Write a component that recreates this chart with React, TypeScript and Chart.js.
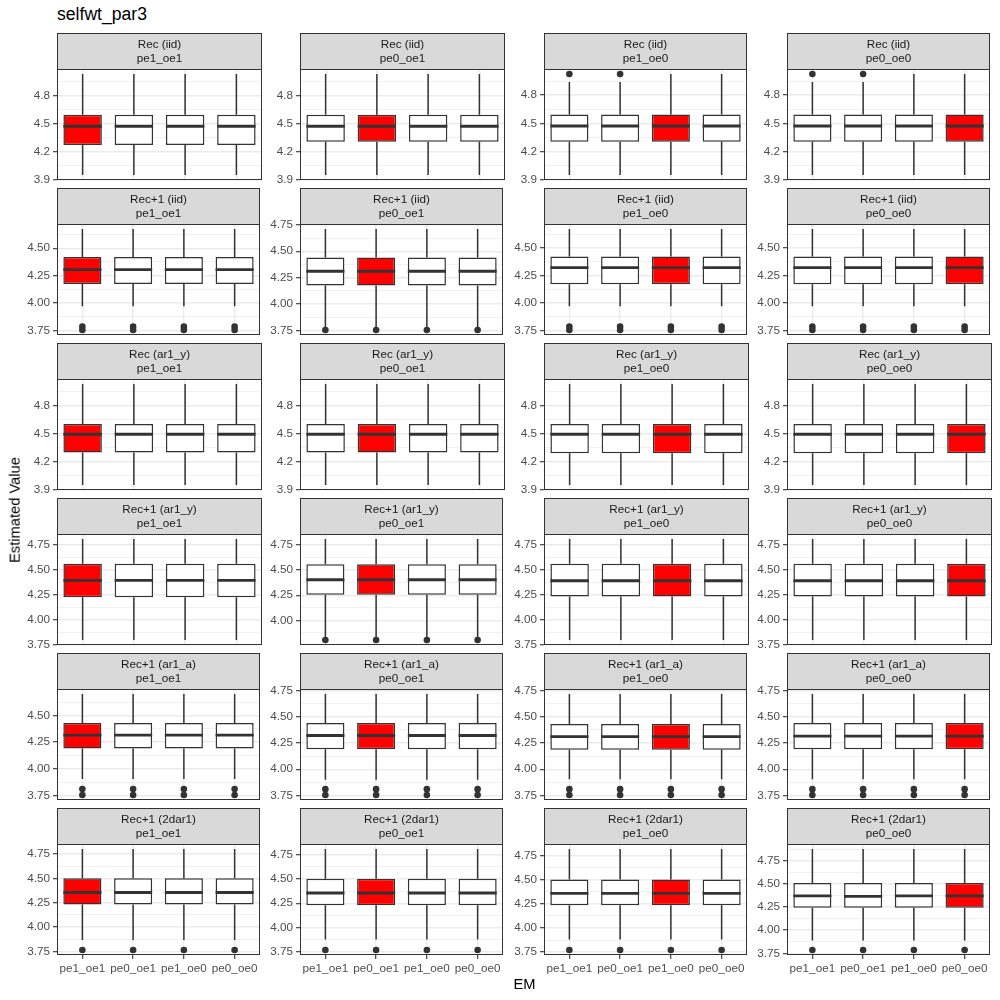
import React, { useEffect, useRef } from 'react';
import { Chart, registerables } from 'chart.js';

Chart.register(...registerables);

// ---------- data ----------
const EM_LABELS = ['pe1_oe1', 'pe0_oe1', 'pe1_oe0', 'pe0_oe0'];
const OM_LABELS = ['pe1_oe1', 'pe0_oe1', 'pe1_oe0', 'pe0_oe0'];
const MODEL_LABELS = ['Rec (iid)', 'Rec+1 (iid)', 'Rec (ar1_y)', 'Rec+1 (ar1_y)', 'Rec+1 (ar1_a)', 'Rec+1 (2dar1)'];
const TICK_STEPS = [0.3, 0.25, 0.3, 0.25, 0.25, 0.25];
const TICK_DECIMALS = [1, 2, 1, 2, 2, 2];

// [lower whisker, Q1, median, Q3, upper whisker] per EM box, for each OM panel
const BOX_REC_IID = [
  [[3.95, 4.27, 4.472, 4.595, 5.03], [3.95, 4.27, 4.472, 4.595, 5.03], [3.95, 4.27, 4.472, 4.595, 5.03], [3.95, 4.27, 4.472, 4.595, 5.03]],
  [[3.95, 4.305, 4.472, 4.595, 5.03], [3.95, 4.305, 4.472, 4.595, 5.03], [3.95, 4.305, 4.472, 4.595, 5.03], [3.95, 4.305, 4.472, 4.595, 5.03]],
  [[3.95, 4.305, 4.472, 4.595, 4.94], [3.95, 4.305, 4.472, 4.595, 4.94], [3.95, 4.305, 4.472, 4.595, 5.025], [3.95, 4.305, 4.472, 4.595, 5.025]],
  [[3.95, 4.305, 4.472, 4.595, 4.94], [3.95, 4.305, 4.472, 4.595, 4.94], [3.95, 4.305, 4.472, 4.595, 5.025], [3.95, 4.305, 4.472, 4.595, 5.025]],
];
const OUT_REC_IID = [
  [[], [], [], []],
  [[], [], [], []],
  [[5.025], [5.025], [], []],
  [[5.025], [5.025], [], []],
];

const BOX_REC1_IID = [
  [[3.97, 4.175, 4.305, 4.42, 4.675], [3.97, 4.175, 4.305, 4.42, 4.675], [3.97, 4.175, 4.305, 4.42, 4.675], [3.97, 4.175, 4.305, 4.42, 4.675]],
  [[3.78, 4.175, 4.31, 4.44, 4.71], [3.78, 4.175, 4.31, 4.44, 4.71], [3.78, 4.175, 4.31, 4.44, 4.71], [3.78, 4.175, 4.31, 4.44, 4.71]],
  [[3.97, 4.17, 4.32, 4.42, 4.67], [3.97, 4.17, 4.32, 4.42, 4.67], [3.97, 4.17, 4.32, 4.42, 4.67], [3.97, 4.17, 4.32, 4.42, 4.67]],
  [[3.97, 4.17, 4.32, 4.42, 4.67], [3.97, 4.17, 4.32, 4.42, 4.67], [3.97, 4.17, 4.32, 4.42, 4.67], [3.97, 4.17, 4.32, 4.42, 4.67]],
];
const OUT_REC1_IID = [
  [[3.785, 3.755], [3.785, 3.755], [3.785, 3.755], [3.785, 3.755]],
  [[3.755], [3.755], [3.755], [3.755]],
  [[3.785, 3.755], [3.785, 3.755], [3.785, 3.755], [3.785, 3.755]],
  [[3.785, 3.755], [3.785, 3.755], [3.785, 3.755], [3.785, 3.755]],
];

const BOX_REC_AR1Y = [
  [[3.952, 4.3, 4.495, 4.605, 5.032], [3.952, 4.3, 4.495, 4.605, 5.032], [3.952, 4.3, 4.495, 4.605, 5.032], [3.952, 4.3, 4.495, 4.605, 5.032]],
  [[3.952, 4.3, 4.495, 4.605, 5.032], [3.952, 4.3, 4.495, 4.605, 5.032], [3.952, 4.3, 4.495, 4.605, 5.032], [3.952, 4.3, 4.495, 4.605, 5.032]],
  [[3.952, 4.29, 4.495, 4.605, 5.032], [3.952, 4.29, 4.495, 4.605, 5.032], [3.952, 4.29, 4.495, 4.605, 5.032], [3.952, 4.29, 4.495, 4.605, 5.032]],
  [[3.952, 4.29, 4.495, 4.605, 5.032], [3.952, 4.29, 4.495, 4.605, 5.032], [3.952, 4.29, 4.495, 4.605, 5.032], [3.952, 4.29, 4.495, 4.605, 5.032]],
];
const OUT_REC_AR1Y = [
  [[], [], [], []],
  [[], [], [], []],
  [[], [], [], []],
  [[], [], [], []],
];

const BOX_REC1_AR1Y = [
  [[3.795, 4.225, 4.394, 4.562, 4.81], [3.795, 4.225, 4.394, 4.562, 4.81], [3.795, 4.225, 4.394, 4.562, 4.81], [3.795, 4.225, 4.394, 4.562, 4.81]],
  [[3.82, 4.255, 4.405, 4.56, 4.81], [3.82, 4.255, 4.405, 4.56, 4.81], [3.82, 4.255, 4.405, 4.56, 4.81], [3.82, 4.255, 4.405, 4.56, 4.81]],
  [[3.795, 4.232, 4.39, 4.562, 4.81], [3.795, 4.232, 4.39, 4.562, 4.81], [3.795, 4.232, 4.39, 4.562, 4.81], [3.795, 4.232, 4.39, 4.562, 4.81]],
  [[3.795, 4.232, 4.39, 4.562, 4.81], [3.795, 4.232, 4.39, 4.562, 4.81], [3.795, 4.232, 4.39, 4.562, 4.81], [3.795, 4.232, 4.39, 4.562, 4.81]],
];
const OUT_REC1_AR1Y = [
  [[], [], [], []],
  [[3.805], [3.805], [3.805], [3.805]],
  [[], [], [], []],
  [[], [], [], []],
];

const BOX_REC1_AR1A = [
  [[3.905, 4.19, 4.315, 4.43, 4.7], [3.905, 4.19, 4.315, 4.43, 4.7], [3.905, 4.19, 4.315, 4.43, 4.7], [3.905, 4.19, 4.315, 4.43, 4.7]],
  [[3.9, 4.19, 4.32, 4.44, 4.715], [3.9, 4.19, 4.32, 4.44, 4.715], [3.9, 4.19, 4.32, 4.44, 4.715], [3.9, 4.19, 4.32, 4.44, 4.715]],
  [[3.905, 4.185, 4.31, 4.43, 4.715], [3.905, 4.185, 4.31, 4.43, 4.715], [3.905, 4.185, 4.31, 4.43, 4.715], [3.905, 4.185, 4.31, 4.43, 4.715]],
  [[3.905, 4.19, 4.315, 4.44, 4.715], [3.905, 4.19, 4.315, 4.44, 4.715], [3.905, 4.19, 4.315, 4.44, 4.715], [3.905, 4.19, 4.315, 4.44, 4.715]],
];
const OUT_REC1_AR1A = [
  [[3.81, 3.755], [3.81, 3.755], [3.81, 3.755], [3.81, 3.755]],
  [[3.81, 3.755], [3.81, 3.755], [3.81, 3.755], [3.81, 3.755]],
  [[3.81, 3.755], [3.81, 3.755], [3.81, 3.755], [3.81, 3.755]],
  [[3.81, 3.755], [3.81, 3.755], [3.81, 3.755], [3.81, 3.755]],
];

const BOX_REC1_2DAR1 = [
  [[3.87, 4.232, 4.355, 4.5, 4.8], [3.87, 4.232, 4.355, 4.5, 4.8], [3.87, 4.232, 4.355, 4.5, 4.8], [3.87, 4.232, 4.355, 4.5, 4.8]],
  [[3.88, 4.23, 4.355, 4.5, 4.805], [3.88, 4.23, 4.355, 4.5, 4.805], [3.88, 4.23, 4.355, 4.5, 4.805], [3.88, 4.23, 4.355, 4.5, 4.805]],
  [[3.88, 4.235, 4.36, 4.505, 4.82], [3.88, 4.235, 4.36, 4.505, 4.82], [3.88, 4.235, 4.36, 4.505, 4.82], [3.88, 4.235, 4.36, 4.505, 4.82]],
  [[3.887, 4.243, 4.37, 4.508, 4.876], [3.887, 4.243, 4.365, 4.508, 4.876], [3.887, 4.243, 4.37, 4.508, 4.876], [3.887, 4.243, 4.37, 4.508, 4.876]],
];
const OUT_REC1_2DAR1 = [
  [[3.767], [3.767], [3.767], [3.767]],
  [[3.772], [3.772], [3.772], [3.772]],
  [[3.772], [3.772], [3.772], [3.772]],
  [[3.786], [3.786], [3.786], [3.786]],
];

const BOXES = [BOX_REC_IID, BOX_REC1_IID, BOX_REC_AR1Y, BOX_REC1_AR1Y, BOX_REC1_AR1A, BOX_REC1_2DAR1];
const OUTLIERS = [OUT_REC_IID, OUT_REC1_IID, OUT_REC_AR1Y, OUT_REC1_AR1Y, OUT_REC1_AR1A, OUT_REC1_2DAR1];

// ---------- style / layout ----------
const FONT = '"Liberation Sans", Arial, Helvetica, sans-serif';
const INK = '#333333';
const HIGHLIGHT = '#FF0000';
const PLOT_LEFTS = [57, 300, 544, 787];
const PLOT_W = 205;
const STRIP_TOPS = [33, 188, 343, 498, 653, 808];
const STRIP_H = 36;
const PLOT_H = 111;
const AXIS_W = 40;
const RIGHT_PAD = 2;

const boxExtras = {
  id: 'boxExtras',
  beforeDatasetsDraw(chart: any) {
    const opts = chart.options.plugins.boxExtras;
    const stats: number[][] = opts.stats;
    const y = chart.scales.y;
    const ctx = chart.ctx;
    const meta = chart.getDatasetMeta(0);
    ctx.save();
    ctx.strokeStyle = INK;
    ctx.lineWidth = 1.5;
    meta.data.forEach((bar: any, i: number) => {
      const s = stats[i];
      ctx.beginPath();
      ctx.moveTo(bar.x, y.getPixelForValue(s[0]));
      ctx.lineTo(bar.x, y.getPixelForValue(s[1]));
      ctx.moveTo(bar.x, y.getPixelForValue(s[3]));
      ctx.lineTo(bar.x, y.getPixelForValue(s[4]));
      ctx.stroke();
    });
    ctx.restore();
  },
  afterDatasetsDraw(chart: any) {
    const opts = chart.options.plugins.boxExtras;
    const stats: number[][] = opts.stats;
    const y = chart.scales.y;
    const ctx = chart.ctx;
    const meta = chart.getDatasetMeta(0);
    ctx.save();
    ctx.strokeStyle = INK;
    ctx.lineWidth = 2.9;
    meta.data.forEach((bar: any, i: number) => {
      const py = y.getPixelForValue(stats[i][2]);
      ctx.beginPath();
      ctx.moveTo(bar.x - bar.width / 2, py);
      ctx.lineTo(bar.x + bar.width / 2, py);
      ctx.stroke();
    });
    ctx.restore();
  },
  afterDraw(chart: any) {
    const opts = chart.options.plugins.boxExtras;
    const { left, right, top, bottom } = chart.chartArea;
    const ctx = chart.ctx;
    ctx.save();
    ctx.strokeStyle = INK;
    ctx.lineWidth = 1;
    ctx.strokeRect(left + 0.5, top + 0.5, right - left - 1, bottom - top - 1);
    ctx.fillStyle = '#D9D9D9';
    ctx.fillRect(left, 0, right - left, top);
    ctx.strokeRect(left + 0.5, 0.5, right - left - 1, top);
    ctx.fillStyle = '#1A1A1A';
    ctx.font = `11.7px ${FONT}`;
    ctx.textAlign = 'center';
    ctx.textBaseline = 'alphabetic';
    const cx = (left + right) / 2;
    ctx.fillText(opts.strip[0], cx, 15);
    ctx.fillText(opts.strip[1], cx, 29);
    ctx.restore();
  },
};

function Panel({ row, col }: { row: number; col: number }) {
  const ref = useRef<HTMLCanvasElement>(null);
  const isBottom = row === MODEL_LABELS.length - 1;
  const bottomExtra = isBottom ? 20 : 6;
  const left = PLOT_LEFTS[col] - AXIS_W;
  const top = STRIP_TOPS[row];
  const w = AXIS_W + PLOT_W + RIGHT_PAD;
  const h = STRIP_H + PLOT_H + bottomExtra;

  useEffect(() => {
    const stats = BOXES[row][col];
    const outs = OUTLIERS[row][col];
    const allVals: number[] = [];
    stats.forEach((s) => allVals.push(...s));
    outs.forEach((o) => allVals.push(...o));
    const lo = Math.min(...allVals);
    const hi = Math.max(...allVals);
    const pad = (hi - lo) * 0.05;
    const yMin = lo - pad;
    const yMax = hi + pad;
    const step = TICK_STEPS[row];
    const dec = TICK_DECIMALS[row];
    const isMajor = (v: number) => Math.abs(v / step - Math.round(v / step)) < 1e-6;

    const outlierPoints: { x: string; y: number }[] = [];
    outs.forEach((o, i) => o.forEach((v) => outlierPoints.push({ x: EM_LABELS[i], y: v })));

    const tickFont = { family: FONT, size: 11.7 };
    const chart = new Chart(ref.current as HTMLCanvasElement, {
      type: 'bar',
      data: {
        labels: EM_LABELS,
        datasets: [
          {
            type: 'bar',
            data: stats.map((s) => [s[1], s[3]]),
            backgroundColor: EM_LABELS.map((_, i) => (i === col ? HIGHLIGHT : '#FFFFFF')),
            borderColor: INK,
            borderWidth: 1.5,
            borderSkipped: false,
            barPercentage: 0.75,
            categoryPercentage: 1,
            order: 2,
          } as any,
          {
            type: 'line',
            data: outlierPoints as any,
            showLine: false,
            pointRadius: 3.3,
            pointBackgroundColor: INK,
            pointBorderColor: INK,
            pointBorderWidth: 0,
            order: 1,
          } as any,
        ],
      },
      options: {
        animation: false,
        responsive: false,
        devicePixelRatio: 1,
        events: [],
        layout: { padding: { top: STRIP_H, right: RIGHT_PAD, bottom: isBottom ? 0 : 6, left: 0 } },
        plugins: {
          legend: { display: false },
          tooltip: { enabled: false },
          title: { display: false },
          boxExtras: { stats, strip: [MODEL_LABELS[row], OM_LABELS[col]] },
        } as any,
        scales: {
          x: {
            type: 'category',
            offset: true,
            border: { display: false },
            grid: {
              offset: false,
              color: '#EBEBEB',
              lineWidth: 1.4,
              drawTicks: isBottom,
              tickLength: 4,
              tickColor: INK,
              tickWidth: 1.1,
            },
            ticks: {
              display: isBottom,
              padding: 3,
              color: '#4D4D4D',
              font: tickFont,
              maxRotation: 0,
              minRotation: 0,
              autoSkip: false,
            },
            afterFit: (s: any) => {
              s.height = isBottom ? 20 : 0;
              s.paddingLeft = 0;
              s.paddingRight = 0;
            },
          },
          y: {
            type: 'linear',
            min: yMin,
            max: yMax,
            border: { display: false },
            grid: {
              color: '#EBEBEB',
              lineWidth: (c: any) => (c.tick && isMajor(c.tick.value) ? 1.4 : 0.7),
              drawTicks: true,
              tickLength: 4,
              tickWidth: 1.1,
              tickColor: (c: any) => (c.tick && isMajor(c.tick.value) ? INK : 'rgba(0,0,0,0)'),
            },
            ticks: {
              padding: 3,
              color: '#4D4D4D',
              font: tickFont,
              autoSkip: false,
              callback: (v: any) => (isMajor(Number(v)) ? Number(v).toFixed(dec) : ''),
            },
            afterBuildTicks: (s: any) => {
              const half = step / 2;
              const ticks: { value: number }[] = [];
              let k = Math.ceil(s.min / half - 1e-9);
              while (k * half <= s.max + 1e-9) {
                ticks.push({ value: Math.round(k * half * 1e6) / 1e6 });
                k++;
              }
              s.ticks = ticks;
            },
            afterFit: (s: any) => {
              s.width = AXIS_W;
              s.paddingTop = 0;
              s.paddingBottom = 0;
            },
          },
        },
      } as any,
      plugins: [boxExtras],
    });
    return () => chart.destroy();
  }, [row, col]);

  return (
    <canvas
      ref={ref}
      width={w}
      height={h}
      style={{ position: 'absolute', left, top, width: w, height: h, display: 'block' }}
    />
  );
}

export default function App() {
  const panels: JSX.Element[] = [];
  MODEL_LABELS.forEach((_, r) => OM_LABELS.forEach((__, c) => panels.push(<Panel key={`${r}-${c}`} row={r} col={c} />)));
  return (
    <div
      style={{
        position: 'fixed',
        left: 0,
        top: 0,
        width: 1000,
        height: 1000,
        background: '#FFFFFF',
        overflow: 'hidden',
        fontFamily: FONT,
      }}
    >
      <div style={{ position: 'absolute', left: 57, top: 6, fontSize: 17.6, lineHeight: 1, color: '#000000', whiteSpace: 'nowrap' }}>
        selfwt_par3
      </div>
      {panels}
      <div
        style={{
          position: 'absolute',
          left: 524.5,
          top: 977,
          transform: 'translateX(-50%)',
          fontSize: 14.7,
          lineHeight: 1,
          color: '#000000',
          whiteSpace: 'nowrap',
        }}
      >
        EM
      </div>
      <div
        style={{
          position: 'absolute',
          left: 15,
          top: 510,
          transform: 'translate(-50%, -50%) rotate(-90deg)',
          fontSize: 14.7,
          lineHeight: 1,
          color: '#000000',
          whiteSpace: 'nowrap',
        }}
      >
        Estimated Value
      </div>
    </div>
  );
}
